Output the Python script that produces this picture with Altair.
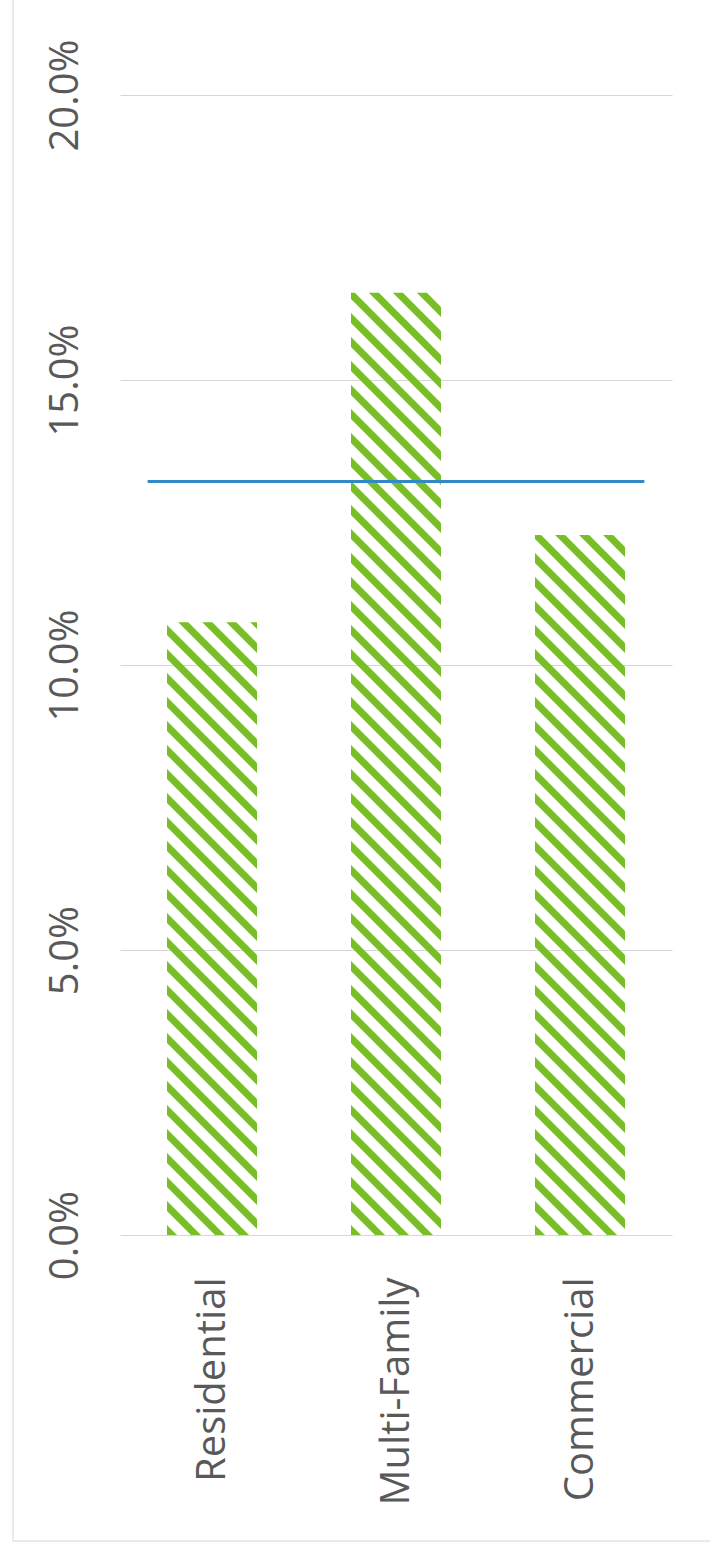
import altair as alt
import numpy as np
import pandas as pd

# Share of each customer class, and the overall reference level
categories = ["Residential", "Multi-Family", "Commercial"]
shares = [0.1075, 0.1653, 0.1228]
reference_level = 0.1322

# Layout of the plot area (pixels) and of the value scale
PLOT_W, PLOT_H = 552, 1140
X_DOMAIN = [0.5, 3.5]
Y_DOMAIN = [0.0, 0.20]
BAR_PX = 90          # bar width
STRIPE_PERIOD_PX = 24  # vertical repeat of the hatch
STRIPE_THICK_PX = 10   # vertical thickness of one hatch stroke
LINE_SPAN = [0.65, 3.35]  # horizontal extent of the reference line

FONT = "Open Sans"
TEXT = "#595959"
GREEN = "#77bf25"
BLUE = "#3389c6"

px_per_x = PLOT_W / (X_DOMAIN[1] - X_DOMAIN[0])
px_per_y = PLOT_H / (Y_DOMAIN[1] - Y_DOMAIN[0])
half_w = BAR_PX / 2 / px_per_x
slope = px_per_x / px_per_y          # 45-degree hatch in screen space
period = STRIPE_PERIOD_PX / px_per_y
thick = STRIPE_THICK_PX / px_per_y


def hatch(center, top, name, start_id):
    """Diagonal hatch strokes clipped to the bar [center +- half_w] x [0, top]."""
    xl, xr = center - half_w, center + half_w
    rows = []
    n = int(np.ceil((top + slope * 2 * half_w) / period)) + 1
    sid = start_id
    for j in range(n):
        b = j * period
        xs = {xl, xr}
        for edge in (b, b + thick):
            for c in (0.0, top):
                x = xl + (edge - c) / slope
                if xl < x < xr:
                    xs.add(x)
        xs = sorted(xs)
        pts = []
        for x in xs:
            lo = b - slope * (x - xl)
            hi = lo + thick
            pts.append((x, min(max(lo, 0.0), top), min(max(hi, 0.0), top)))
        if all(hi - lo < 1e-12 for _, lo, hi in pts):
            continue
        for x, lo, hi in pts:
            rows.append({"stripe": sid, "x": x, "lo": lo, "hi": hi, "category": name})
        sid += 1
    return rows, sid


stripe_rows = []
sid = 0
for i, (cat, v) in enumerate(zip(categories, shares)):
    r, sid = hatch(i + 1, v, cat, sid)
    stripe_rows += r
stripes = pd.DataFrame(stripe_rows)

x_scale = alt.Scale(domain=X_DOMAIN, nice=False, zero=False)
y_scale = alt.Scale(domain=Y_DOMAIN, nice=False)

label_expr = "[" + ",".join(f"'{c}'" for c in categories) + "][datum.value - 1]"

x_axis = alt.Axis(
    values=[1, 2, 3], labelExpr=label_expr, title=None, grid=False, domain=False,
    ticks=False, labelAngle=-90, labelAlign="right", labelBaseline="middle",
    labelPadding=42, labelFont=FONT, labelFontSize=40, labelColor=TEXT,
    labelLimit=0, labelOverlap=False,
)
y_axis = alt.Axis(
    values=[0, 0.05, 0.10, 0.15, 0.20], format=".1%", title=None, grid=True,
    gridColor="#d6d6d6", gridWidth=1, domain=False, ticks=False, labelAngle=-90,
    labelAlign="center", labelBaseline="alphabetic", labelPadding=43,
    labelFont=FONT, labelFontSize=40, labelColor=TEXT,
    labelLimit=0, labelOverlap=False,
)

bars = alt.Chart(stripes).mark_area(color=GREEN, interpolate="linear", strokeWidth=0).encode(
    x=alt.X("x:Q", scale=x_scale, axis=x_axis),
    y=alt.Y("lo:Q", scale=y_scale, axis=y_axis),
    y2="hi:Q",
    detail="stripe:N",
)

line_df = pd.DataFrame({"x": [LINE_SPAN[0]], "x2": [LINE_SPAN[1]], "y": [reference_level]})
ref_line = alt.Chart(line_df).mark_rule(color=BLUE, strokeWidth=3).encode(
    x=alt.X("x:Q", scale=x_scale), x2="x2:Q", y=alt.Y("y:Q", scale=y_scale)
)

frame = alt.Chart(alt.Data(values=[{}])).mark_rect(
    fill=None, stroke="#d4d4d4", strokeWidth=1
).encode(
    x=alt.value(-107), x2=alt.value(610), y=alt.value(-110), y2=alt.value(1446)
)

chart = (
    alt.layer(bars, ref_line, frame)
    .properties(
        width=PLOT_W, height=PLOT_H,
        autosize=alt.AutoSizeParams(type="none"),
        padding={"left": 120, "top": 95, "right": 38, "bottom": 310},
        background="white",
    )
    .configure_view(stroke=None)
)

chart.save("out.html", embed_options={"renderer": "svg", "actions": False})
